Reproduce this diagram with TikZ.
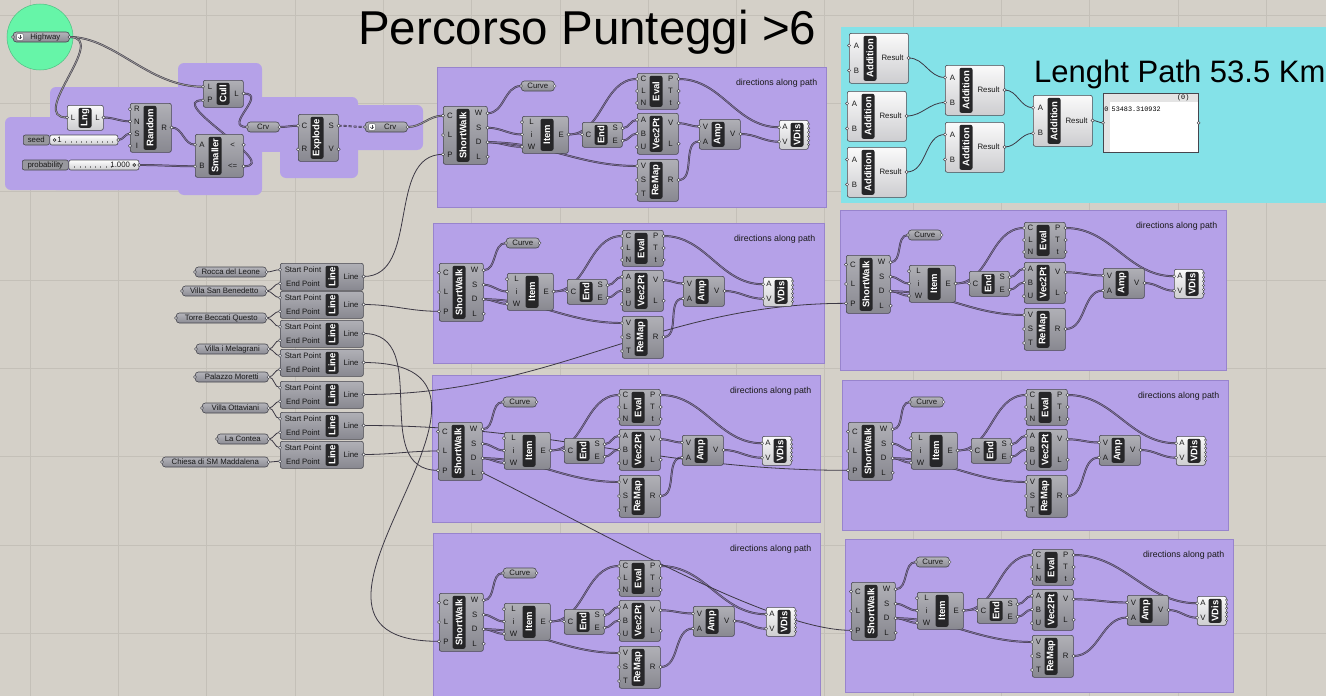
\documentclass[tikz,border=0pt]{standalone}
\usepackage{fontspec}
\setmainfont{Liberation Sans}
\newfontfamily\panelfont{Liberation Mono}
\usetikzlibrary{calc,positioning}
\definecolor{canvas}{RGB}{212,208,200}
\definecolor{gridgrey}{RGB}{196,192,184}
\definecolor{grpurple}{RGB}{181,161,232}
\definecolor{grpedge}{RGB}{152,132,205}
\definecolor{grcyan}{RGB}{132,226,232}
\definecolor{hwgreen}{RGB}{102,245,168}
\definecolor{hwedge}{RGB}{80,190,130}
\definecolor{compedge}{RGB}{70,70,78}
\definecolor{comptop}{RGB}{176,176,182}
\definecolor{compbot}{RGB}{136,136,144}
\definecolor{lighttop}{RGB}{250,250,250}
\definecolor{lightbot}{RGB}{205,205,208}
\definecolor{paramtop}{RGB}{180,180,186}
\definecolor{parambot}{RGB}{140,140,148}
\definecolor{sliderdark}{RGB}{152,152,158}
\definecolor{stripfill}{RGB}{38,38,40}
\definecolor{wiredark}{RGB}{60,56,68}
\definecolor{wireinner}{RGB}{128,112,160}
\definecolor{wiregrey}{RGB}{150,148,150}
\definecolor{labeltext}{RGB}{25,25,25}
\definecolor{panelhead}{RGB}{228,228,228}
\pgfdeclarelayer{canvaslayer}
\pgfdeclarelayer{grouplayer}
\pgfdeclarelayer{wirelayer}
\pgfsetlayers{canvaslayer,grouplayer,wirelayer,main}
\newcommand{\stripfont}{\fontsize{9.5}{10}\selectfont\bfseries}
\newcommand{\portfont}{\fontsize{7.8}{8}\selectfont}
\newcommand{\grpfont}{\fontsize{8.8}{9}\selectfont}
\newcommand{\panelsize}{\panelfont\fontsize{6.8}{7}\selectfont}
% component: name, x, y, left zone, right zone, height, title, inputs, outputs
\newcommand{\ghcomp}[9]{%
  \pgfmathsetmacro{\cwid}{#4+14+#5}
  \node[compfill, minimum width=\cwid pt, minimum height=#6pt, anchor=north west] (#1) at (#2,#3) {};
  \node[compstrip, minimum width=#6pt-5pt] (#1-name) at ($(#1.west)+(#4+7,0)$) {#7};
  \foreach \lab [count=\n] in {#8} {\xdef\nports{\n}}
  \foreach \lab [count=\n] in {#8} {
    \coordinate (#1-i\n) at ($(#1.north west)+(0,{#6*(\n-0.5)/\nports})$);
    \node[portlab] (#1-li\n) at ($(#1-i\n)+({#4/2+0.5},0)$) {\lab};
    \draw[port] (#1-i\n) circle (1.6pt);
  }
  \if\relax\detokenize{#9}\relax\else
  \foreach \lab [count=\n] in {#9} {\xdef\nports{\n}}
  \foreach \lab [count=\n] in {#9} {
    \coordinate (#1-o\n) at ($(#1.north east)+(0,{#6*(\n-0.5)/\nports})$);
    \node[portlab] (#1-lo\n) at ($(#1-o\n)+({-#5/2-0.5},0)$) {\lab};
    \draw[port] (#1-o\n) circle (1.6pt);
  }
  \fi
}
% parameter: name, left x, centre y, width, text
\newcommand{\ghparam}[5]{%
  \node[parambox, minimum width=#4pt, anchor=west, font=\portfont] (#1) at (#2,#3) {#5};
  \coordinate (#1-i) at (#1.west);
  \coordinate (#1-o) at (#1.east);
  \draw[port] (#1-i) circle (1.5pt);
  \draw[port] (#1-o) circle (1.5pt);
}
\newcommand{\ghparamicon}[5]{%
  \node[parambox, minimum width=#4pt, anchor=west] (#1) at (#2,#3) {};
  \node[iconbox] (#1-icon) at ($(#1.west)+(7,0)$) {};
  \draw[iconmark] ($(#1-icon.center)+(0,-2.2)$) -- ($(#1-icon.center)+(0,1.8)$);
  \draw[iconmark] ($(#1-icon.center)+(-1.8,0)$) -- ($(#1-icon.center)+(0,1.8)$) -- ($(#1-icon.center)+(1.8,0)$);
  \node[portlab] (#1-text) at ($(#1.center)+(4,0)$) {#5};
  \coordinate (#1-i) at (#1.west);
  \coordinate (#1-o) at (#1.east);
  \draw[port] (#1-i) circle (1.5pt);
  \draw[port] (#1-o) circle (1.5pt);
}
% group: prefix, x, y, width, height, ShortWalk top, Eval x, Amp x, VDis x
\newcommand{\dirgroup}[9]{%
  \begin{pgfonlayer}{grouplayer}
    \node[grp, minimum width=#4pt, minimum height=#5pt, anchor=north west] (#1) at (#2,#3) {};
  \end{pgfonlayer}
  \node[grouplab, anchor=east] (#1-lab) at ($(#1.north east)+(-9,16)$) {directions along path};
  \ghcomp{#1-sw}{#2+6}{#3+#6}{13}{17}{58}{ShortWalk}{C,L,P}{W,S,D,L}
  \ghparam{#1-cv}{#2+#7-116}{#3+#6-20}{33}{Curve}
  \ghcomp{#1-it}{#2+#7-115}{#3+#6+10}{18}{14}{37}{Item}{L,i,W}{E}
  \ghcomp{#1-en}{#2+#7-55}{#3+#6+16}{12}{14}{25}{End}{C}{S,E}
  \ghcomp{#1-ev}{#2+#7}{#3+#6-33}{12}{15}{36}{Eval}{C,L,N}{P,T,t}
  \ghcomp{#1-vp}{#2+#7}{#3+#6+7}{12}{15}{41}{Vec2Pt}{A,B,U}{V,L}
  \ghcomp{#1-rm}{#2+#7}{#3+#6+53}{12}{15}{42}{ReMap}{V,S,T}{R}
  \ghcomp{#1-am}{#2+#8}{#3+#6+13}{12}{15}{30}{Amp}{V,A}{V}
  \begin{scope}[compfill/.style=compbodylight]
    \ghcomp{#1-vd}{#2+#9}{#3+#6+14}{11}{4}{29}{VDis}{A,V}{}
  \end{scope}
  \foreach \k in {1,...,6} \draw[fringe] ($(#1-vd.north east)+(0,{\k*4.1})$) circle (1.2pt);
  \begin{pgfonlayer}{wirelayer}
    \draw[wire] (#1-sw-o1) to (#1-cv-i);
    \draw[wire] (#1-sw-o2) to (#1-it-i2);
    \draw[wire] (#1-sw-o3) to (#1-it-i3);
    \draw[wire] (#1-sw-o3) to (#1-rm-i1);
    \draw[wire] (#1-it-o1) to (#1-en-i1);
    \draw[wire] (#1-it-o1) to (#1-ev-i1);
    \draw[wire] (#1-en-o1) to (#1-vp-i1);
    \draw[wire] (#1-en-o2) to (#1-vp-i2);
    \draw[wire] (#1-vp-o1) to (#1-am-i1);
    \draw[wire] (#1-rm-o1) to (#1-am-i2);
    \draw[wire] (#1-ev-o1) to (#1-vd-i1);
    \draw[wire] (#1-am-o1) to (#1-vd-i2);
  \end{pgfonlayer}
}

\begin{document}
\begin{tikzpicture}[
    x=1pt, y=-1pt,
    compbody/.style={draw=compedge, line width=0.6pt, rounded corners=2pt, top color=comptop, bottom color=compbot, inner sep=0pt},
    compbodylight/.style={compbody, top color=lighttop, bottom color=lightbot},
    compfill/.style={compbody},
    compstrip/.style={fill=stripfill, rounded corners=2pt, rotate=90, text=white, font=\stripfont, inner sep=0pt, minimum height=13pt},
    portlab/.style={font=\portfont, text=labeltext, inner sep=0pt},
    port/.style={draw=compedge, fill=white, line width=0.5pt},
    parambox/.style={draw=compedge, line width=0.6pt, rounded corners=3pt, top color=paramtop, bottom color=parambot, inner sep=0pt, minimum height=10pt, text=labeltext},
    iconbox/.style={draw=compedge, fill=white, line width=0.4pt, rounded corners=0.8pt, minimum size=6.5pt, inner sep=0pt},
    iconmark/.style={draw=compedge, line width=0.5pt},
    sliderlab/.style={draw=compedge, line width=0.6pt, rounded corners=2pt, fill=sliderdark, minimum height=10pt, inner sep=0pt, font=\portfont, text=labeltext},
    slidertrack/.style={draw=compedge, line width=0.6pt, rounded corners=2pt, top color=white, bottom color=lightbot, minimum height=10pt, inner sep=0pt},
    sliderticks/.style={draw=gray, line width=0.4pt},
    sliderknob/.style={draw=labeltext, fill=white, line width=0.6pt},
    grp/.style={fill=grpurple, draw=grpedge, line width=0.5pt, inner sep=0pt},
    grouplab/.style={font=\grpfont, text=labeltext, inner sep=0pt},
    wire/.style={draw=wiredark, double=wireinner, double distance=0.9pt, line width=0.5pt, out=0, in=180},
    wireout/.style={wire, double=wiregrey},
    itemwire/.style={draw=wiredark, line width=0.8pt, out=0, in=180},
    fringe/.style={draw=compedge, fill=white, line width=0.4pt},
    gridrule/.style={draw=gridgrey, line width=0.6pt}
]
    \useasboundingbox (0,0) rectangle (1326,696);
    % Canvas
    \begin{pgfonlayer}{canvaslayer}
        \fill[canvas] (0,0) rectangle (1326,696);
        \foreach \gx in {0,...,14} \draw[gridrule] ({30+88.3*\gx},0) -- ({30+88.3*\gx},696);
        \foreach \gy in {0,...,7} \draw[gridrule] (0,{15+88.3*\gy}) -- (1326,{15+88.3*\gy});
    \end{pgfonlayer}

    % Highway input and random culling
    \begin{pgfonlayer}{grouplayer}
        \node[circle, fill=hwgreen, draw=hwedge, line width=0.5pt, minimum size=66pt] (hwcircle) at (40,37) {};
        \fill[grpurple, rounded corners=6pt] (5,117) rectangle (187,190);
        \fill[grpurple, rounded corners=6pt] (50,87) rectangle (187,190);
        \fill[grpurple, rounded corners=6pt] (178,63) rectangle (262,195);
        \fill[grpurple] (255,97) rectangle (285,152);
        \fill[grpurple, rounded corners=6pt] (280,97) rectangle (358,178);
        \fill[grpurple, rounded corners=6pt] (350,105) rectangle (423,150);
    \end{pgfonlayer}
    \ghparamicon{hw}{13}{37}{56}{Highway}
    \begin{scope}[compfill/.style=compbodylight]
        \ghcomp{lng}{67}{105}{11}{11}{25}{Lng}{L}{L}
    \end{scope}
    \ghcomp{random}{130}{103}{13}{14}{49}{Random}{R,N,S,I}{R}
    \ghcomp{cull}{203}{80}{13}{13}{27}{Cull}{L,P}{L}
    \ghcomp{smaller}{195}{134}{13}{21}{43}{Smaller}{A,B}{<,<=}
    \ghparam{crva}{247}{127}{32}{Crv}
    \ghcomp{explode}{298}{114}{12}{14}{47}{Explode}{C,R}{S,V}
    \ghparamicon{crvb}{365}{127}{42}{Crv}

    % Sliders
    \node[sliderlab, minimum width=26pt, anchor=west] (seed) at (23,140) {seed};
    \node[slidertrack, minimum width=68pt, anchor=west] (seed-track) at (seed.east) {};
    \foreach \k in {0,...,9} \draw[sliderticks] ($(seed-track.west)+({16+\k*5.2},1)$) -- ++(0,2);
    \node[portlab, anchor=west] (seed-val) at ($(seed-track.west)+(7.5,0)$) {1};
    \draw[sliderknob] ($(seed-track.west)+(5,0)$) circle (1.4pt);
    \coordinate (seed-o) at (seed-track.east);
    \draw[port] (seed-o) circle (1.5pt);
    \node[sliderlab, minimum width=46pt, anchor=west] (prob) at (22,165) {probability};
    \node[slidertrack, minimum width=70pt, anchor=west] (prob-track) at (prob.east) {};
    \foreach \k in {0,...,7} \draw[sliderticks] ($(prob-track.west)+({6+\k*5.2},1)$) -- ++(0,2);
    \node[portlab, anchor=east] (prob-val) at ($(prob-track.east)+(-9,0)$) {1.000};
    \draw[sliderknob] ($(prob-track.east)+(-5,0)$) circle (1.4pt);
    \coordinate (prob-o) at (prob-track.east);
    \draw[port] (prob-o) circle (1.5pt);

    % Points and lines
    \ghparam{pt1}{195}{272}{71}{Rocca del Leone}
    \ghparam{pt2}{182}{291}{84}{Villa San Benedetto}
    \ghparam{pt3}{176}{318}{90}{Torre Beccati Questo}
    \ghparam{pt4}{196}{349}{72}{Villa i Melagrani}
    \ghparam{pt5}{195}{377}{73}{Palazzo Moretti}
    \ghparam{pt6}{202}{408}{66}{Villa Ottaviani}
    \ghparam{pt7}{217}{439}{51}{La Contea}
    \ghparam{pt8}{162}{462}{106}{Chiesa di SM Maddalena}
    \ghcomp{line1}{280}{263}{45}{24}{27}{Line}{Start Point,End Point}{Line}
    \ghcomp{line2}{280}{291}{45}{24}{27}{Line}{Start Point,End Point}{Line}
    \ghcomp{line3}{280}{320}{45}{24}{27}{Line}{Start Point,End Point}{Line}
    \ghcomp{line4}{280}{349}{45}{24}{27}{Line}{Start Point,End Point}{Line}
    \ghcomp{line5}{280}{381}{45}{24}{27}{Line}{Start Point,End Point}{Line}
    \ghcomp{line6}{280}{412}{45}{24}{27}{Line}{Start Point,End Point}{Line}
    \ghcomp{line7}{280}{441}{45}{24}{27}{Line}{Start Point,End Point}{Line}

    % Direction groups
    \dirgroup{g1}{437}{67}{389}{140}{39}{200}{262}{342}
    \dirgroup{g2}{433}{223}{391}{140}{40}{189}{250}{330}
    \dirgroup{g3}{840}{210}{386}{160}{45}{184}{263}{334}
    \dirgroup{g4}{432}{375}{388}{147}{47}{187}{250}{330}
    \dirgroup{g5}{842}{380}{386}{150}{42}{184}{257}{334}
    \dirgroup{g6}{433}{533}{387}{170}{60}{186}{260}{333}
    \dirgroup{g7}{845}{539}{388}{153}{43}{187}{282}{352}

    % Length sum
    \begin{pgfonlayer}{grouplayer}
        \node[fill=grcyan, inner sep=0pt, minimum width=485pt, minimum height=176pt, anchor=north west] (sumgroup) at (841,27) {};
    \end{pgfonlayer}
    \begin{scope}[compfill/.style=compbodylight]
        \ghcomp{add1}{849}{33}{14}{31}{50}{Addition}{A,B}{Result}
        \ghcomp{add2}{847}{91}{14}{31}{50}{Addition}{A,B}{Result}
        \ghcomp{add3}{847}{147}{14}{31}{50}{Addition}{A,B}{Result}
        \ghcomp{add4}{945}{65}{14}{31}{50}{Addition}{A,B}{Result}
        \ghcomp{add5}{945}{122}{14}{31}{50}{Addition}{A,B}{Result}
        \ghcomp{add6}{1033}{95}{14}{31}{51}{Addition}{A,B}{Result}
    \end{scope}
    \node[draw=compedge, line width=0.6pt, fill=white, inner sep=0pt, minimum width=95pt, minimum height=59pt, anchor=north west] (panel) at (1103,93) {};
    \node[fill=panelhead, inner sep=0pt, minimum width=94pt, minimum height=8pt, anchor=north west] (panel-head) at ($(panel.north west)+(0.5,0.5)$) {};
    \node[fill=panelhead, inner sep=0pt, minimum width=6pt, minimum height=50pt, anchor=north west] (panel-col) at ($(panel.north west)+(0.5,8.5)$) {};
    \node[font=\panelsize, anchor=east, inner sep=0pt] (panel-idx) at ($(panel.north east)+(-9,4.5)$) {(0)};
    \node[font=\panelsize, anchor=center, inner sep=0pt] (panel-row) at ($(panel.north west)+(3.5,16)$) {0};
    \node[font=\panelsize, anchor=west, inner sep=0pt] (panel-val) at ($(panel.north west)+(8.5,16)$) {53483.310932};
    \coordinate (panel-i) at (panel.west);
    \coordinate (panel-o) at (panel.east);
    \draw[port] (panel-i) circle (1.5pt);
    \draw[port] (panel-o) circle (1.5pt);

    % Titles
    \node[font=\fontsize{47.5}{52}\selectfont, anchor=base west, inner sep=0pt] (title) at (358,45) {Percorso Punteggi >6};
    \node[font=\fontsize{31}{34}\selectfont, anchor=base west, inner sep=0pt] (pathlen) at (1034,82) {Lenght Path 53.5 Km};

    % Wires
    \begin{pgfonlayer}{wirelayer}
        \draw[wireout] (hw-o) .. controls +(45,0) and +(-55,0) .. (cull-i1);
        \draw[wireout] (hw-o) .. controls +(40,0) and +(-40,0) .. (lng-i1);
        \draw[wire] (lng-o1) to (random-i2);
        \draw[wire] (seed-o) to (random-i3);
        \draw[wire] (random-o1) to (smaller-i1);
        \draw[wire] (prob-o) to (smaller-i2);
        \draw[wire] (smaller-o2) .. controls +(40,0) and +(-40,0) .. (cull-i2);
        \draw[wire] (cull-o1) .. controls +(25,0) and +(-25,0) .. (crva-i);
        \draw[wire] (crva-o) to (explode-i1);
        \draw[wire, dash pattern=on 3pt off 2pt] (explode-o1) to (crvb-i);
        \draw[wireout] (crvb-o) to (g1-sw-i1);

        \draw[itemwire] (pt1-o) to (line1-i1);
        \draw[itemwire] (pt2-o) to (line1-i2);
        \draw[itemwire] (pt2-o) to (line2-i1);
        \draw[itemwire] (pt3-o) to (line2-i2);
        \draw[itemwire] (pt3-o) to (line3-i1);
        \draw[itemwire] (pt4-o) to (line3-i2);
        \draw[itemwire] (pt4-o) to (line4-i1);
        \draw[itemwire] (pt5-o) to (line4-i2);
        \draw[itemwire] (pt5-o) to (line5-i1);
        \draw[itemwire] (pt6-o) to (line5-i2);
        \draw[itemwire] (pt6-o) to (line6-i1);
        \draw[itemwire] (pt7-o) to (line6-i2);
        \draw[itemwire] (pt7-o) to (line7-i1);
        \draw[itemwire] (pt8-o) to (line7-i2);

        \draw[itemwire] (line1-o1) .. controls +(57,0) and +(-57,0) .. (g1-sw-i3);
        \draw[itemwire] (line2-o1) to (g2-sw-i3);
        \draw[itemwire] (line3-o1) .. controls +(70,0) and +(-70,0) .. (g4-sw-i3);
        \draw[itemwire] (line4-o1) .. controls +(200,0) and +(-200,0) .. (g6-sw-i3);
        \draw[itemwire] (line5-o1) to (g3-sw-i3);
        \draw[itemwire] (line6-o1) to (g5-sw-i3);
        \draw[itemwire] (line7-o1) to (g4-sw-i2);
        \draw[itemwire] (g4-sw-o4) .. controls +(120,60) and +(-80,0) .. (g7-sw-i3);

        \draw[itemwire] (add1-o1) to (add4-i1);
        \draw[itemwire] (add2-o1) to (add4-i2);
        \draw[itemwire] (add3-o1) to (add5-i1);
        \draw[itemwire] (add4-o1) to (add6-i1);
        \draw[itemwire] (add5-o1) to (add6-i2);
        \draw[itemwire] (add6-o1) to (panel-i);
    \end{pgfonlayer}
\end{tikzpicture}
\end{document}
